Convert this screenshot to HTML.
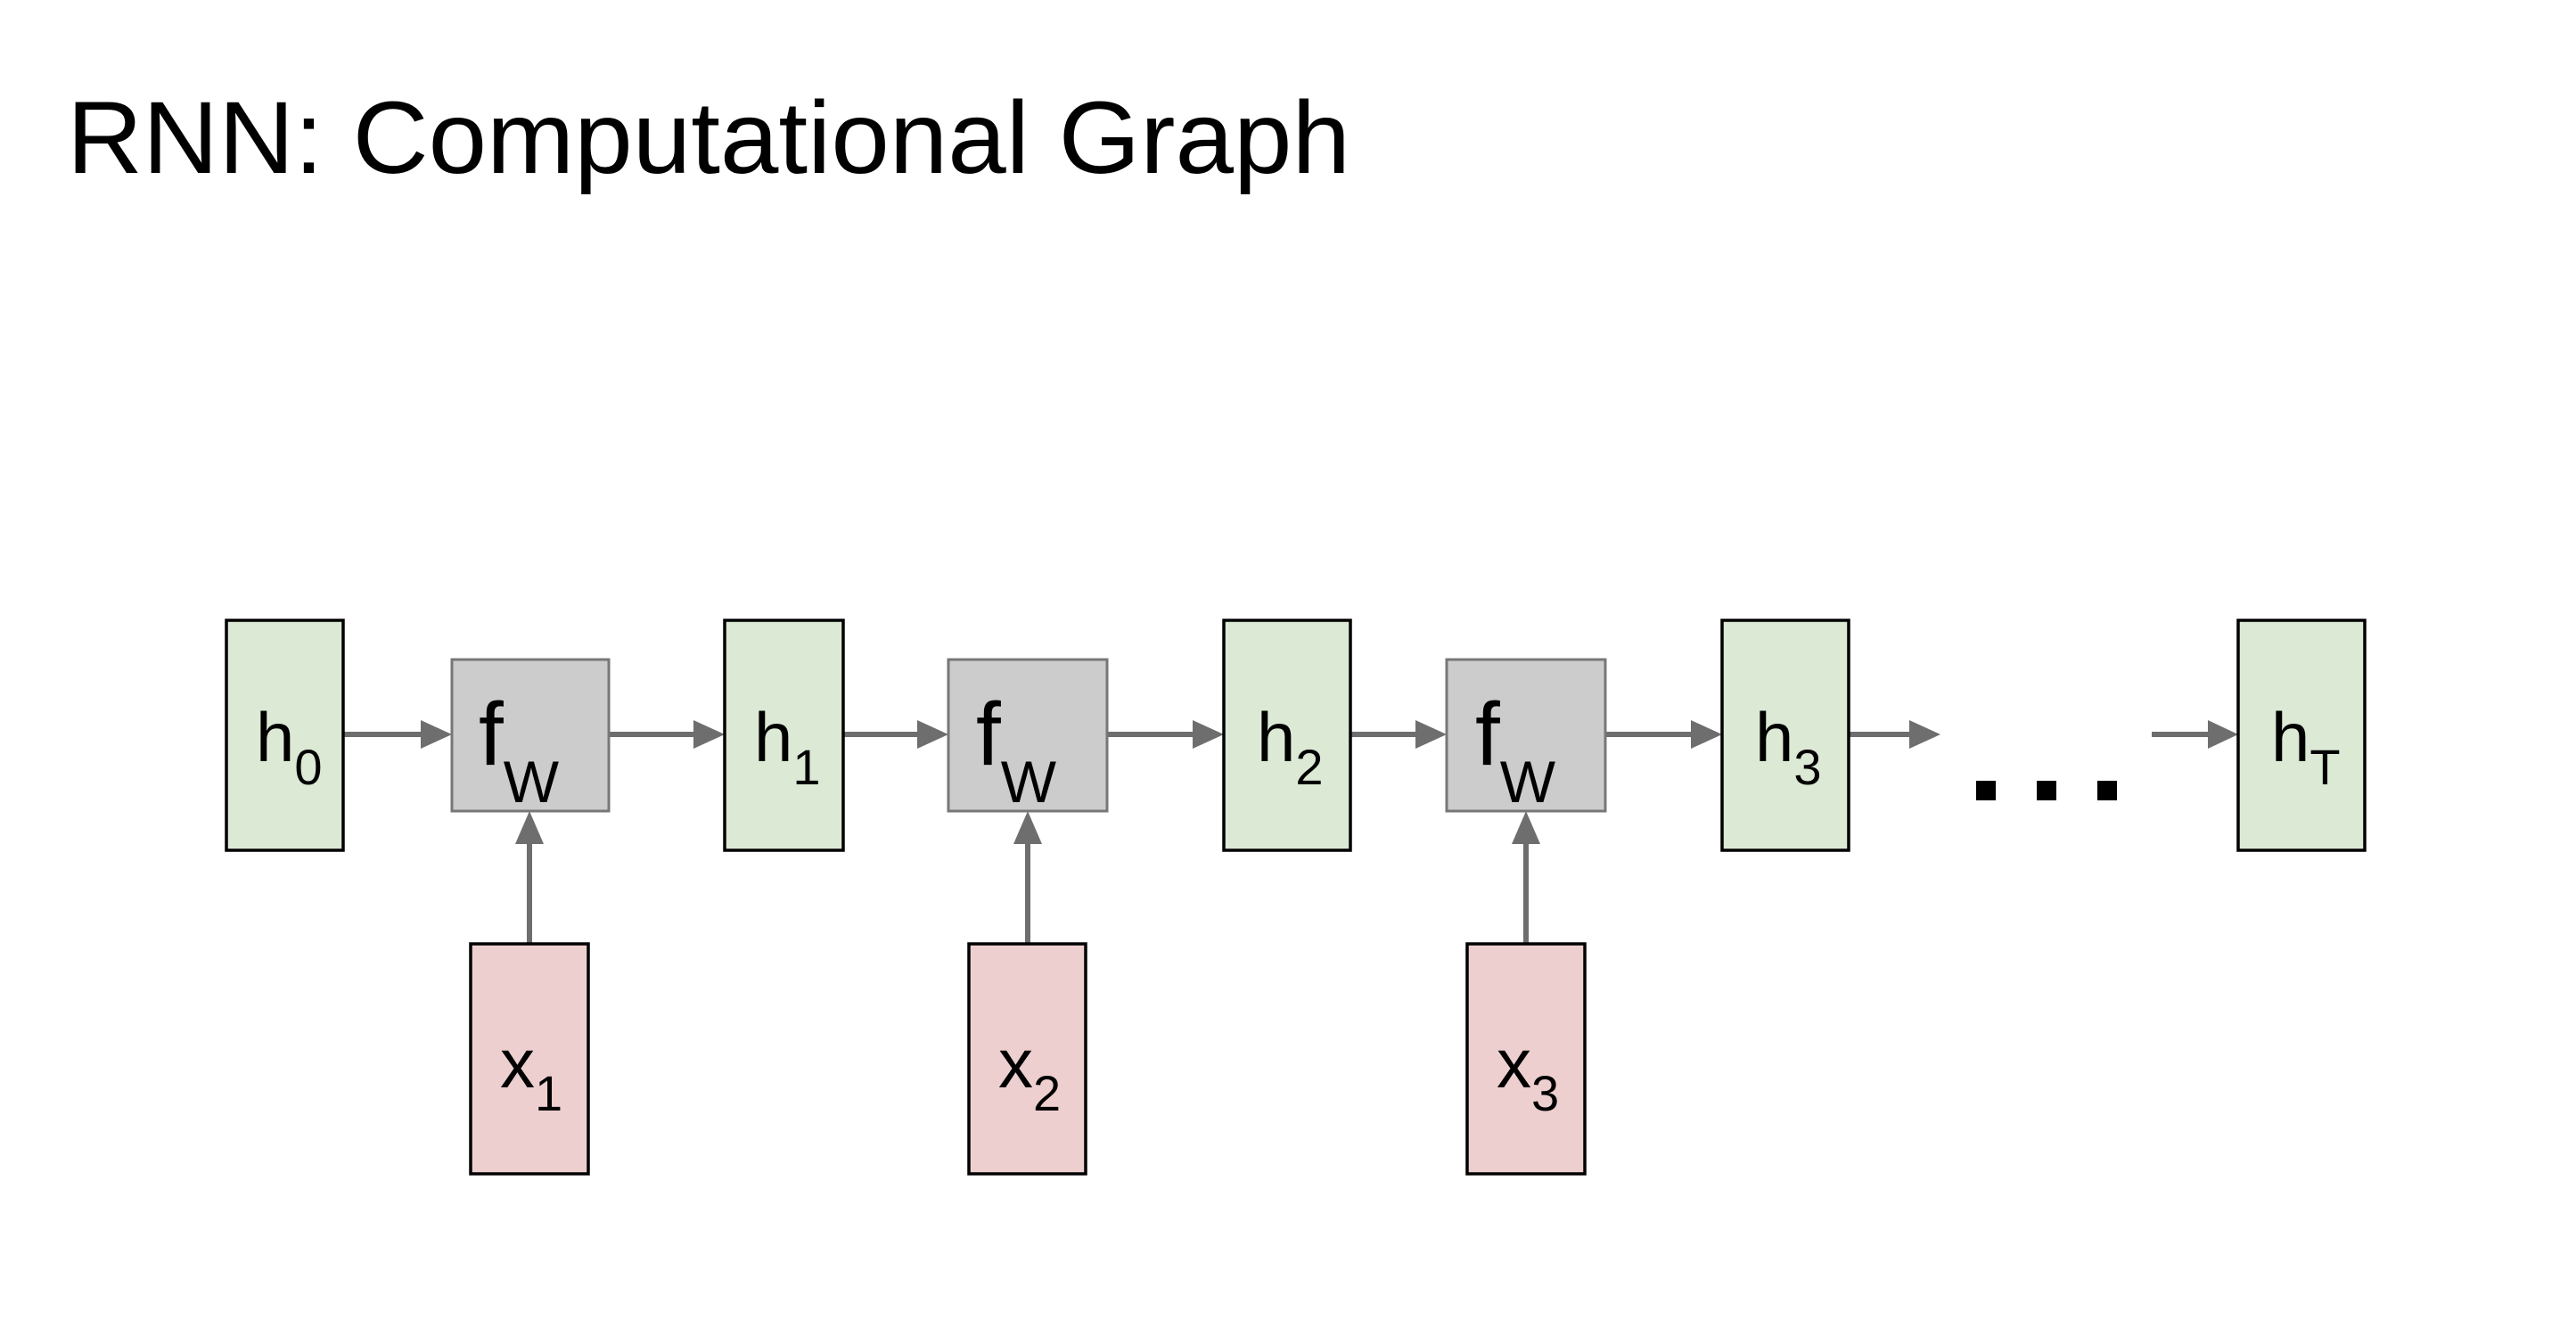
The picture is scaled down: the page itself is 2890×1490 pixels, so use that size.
<!DOCTYPE html>
<html><head><meta charset="utf-8"><style>
html,body{margin:0;padding:0;background:#fff;}
svg{display:block;font-family:"Liberation Sans",Arial,sans-serif;}
</style></head><body>
<svg width="2890" height="1490" viewBox="0 0 2890 1490" xmlns="http://www.w3.org/2000/svg">
<text x="75" y="194" font-size="115" fill="#000" textLength="1440" lengthAdjust="spacingAndGlyphs">RNN: Computational Graph</text>

<g stroke="#6e6e6e" stroke-width="6" fill="none">
<line x1="385" y1="824" x2="474" y2="824"/>
<line x1="683" y1="824" x2="780" y2="824"/>
<line x1="946" y1="824" x2="1031" y2="824"/>
<line x1="1242" y1="824" x2="1340" y2="824"/>
<line x1="1515" y1="824" x2="1590" y2="824"/>
<line x1="1801" y1="824" x2="1899" y2="824"/>
<line x1="2074" y1="824" x2="2144" y2="824"/>
<line x1="2414" y1="824" x2="2479" y2="824"/>
<line x1="594" y1="1059" x2="594" y2="945"/>
<line x1="1153" y1="1059" x2="1153" y2="945"/>
<line x1="1712" y1="1059" x2="1712" y2="945"/>
</g>
<g fill="#6e6e6e">
<polygon points="472,808 507,824 472,840"/>
<polygon points="778,808 813,824 778,840"/>
<polygon points="1029,808 1064,824 1029,840"/>
<polygon points="1338,808 1373,824 1338,840"/>
<polygon points="1588,808 1623,824 1588,840"/>
<polygon points="1897,808 1932,824 1897,840"/>
<polygon points="2142,808 2177,824 2142,840"/>
<polygon points="2477,808 2511,824 2477,840"/>
<polygon points="578,947 594,910 610,947"/>
<polygon points="1137,947 1153,910 1169,947"/>
<polygon points="1696,947 1712,910 1728,947"/>
</g>

<g fill="#dce9d5" stroke="#000" stroke-width="3.5">
<rect x="254" y="696" width="131" height="258"/>
<rect x="813" y="696" width="133" height="258"/>
<rect x="1373" y="696" width="142" height="258"/>
<rect x="1932" y="696" width="142" height="258"/>
<rect x="2511" y="696" width="142" height="258"/>
</g>
<g fill="#cccccc" stroke="#777" stroke-width="3">
<rect x="507" y="740" width="176" height="170"/>
<rect x="1064" y="740" width="178" height="170"/>
<rect x="1623" y="740" width="178" height="170"/>
</g>
<g fill="#eecfcf" stroke="#000" stroke-width="3.5">
<rect x="528" y="1059" width="132" height="258"/>
<rect x="1087" y="1059" width="131" height="258"/>
<rect x="1646" y="1059" width="132" height="258"/>
</g>

<g fill="#000">
<rect x="2217" y="876" width="22" height="22"/>
<rect x="2285" y="876" width="22" height="22"/>
<rect x="2353" y="876" width="22" height="22"/>
</g>

<g fill="#000" font-size="78">
<text x="287" y="854">h<tspan font-size="56" dy="26">0</tspan></text>
<text x="846" y="854">h<tspan font-size="56" dy="26">1</tspan></text>
<text x="1410" y="854">h<tspan font-size="56" dy="26">2</tspan></text>
<text x="1969" y="854">h<tspan font-size="56" dy="26">3</tspan></text>
<text x="2548" y="854">h<tspan font-size="56" dy="26">T</tspan></text>
<text x="561" y="1220">x<tspan font-size="56" dy="26">1</tspan></text>
<text x="1120" y="1220">x<tspan font-size="56" dy="26">2</tspan></text>
<text x="1679" y="1220">x<tspan font-size="56" dy="26">3</tspan></text>
</g>
<g fill="#000">
<text x="537" y="858" font-size="100">f<tspan font-size="66" dy="42">W</tspan></text>
<text x="1095" y="858" font-size="100">f<tspan font-size="66" dy="42">W</tspan></text>
<text x="1655" y="858" font-size="100">f<tspan font-size="66" dy="42">W</tspan></text>
</g>
</svg>
</body></html>
